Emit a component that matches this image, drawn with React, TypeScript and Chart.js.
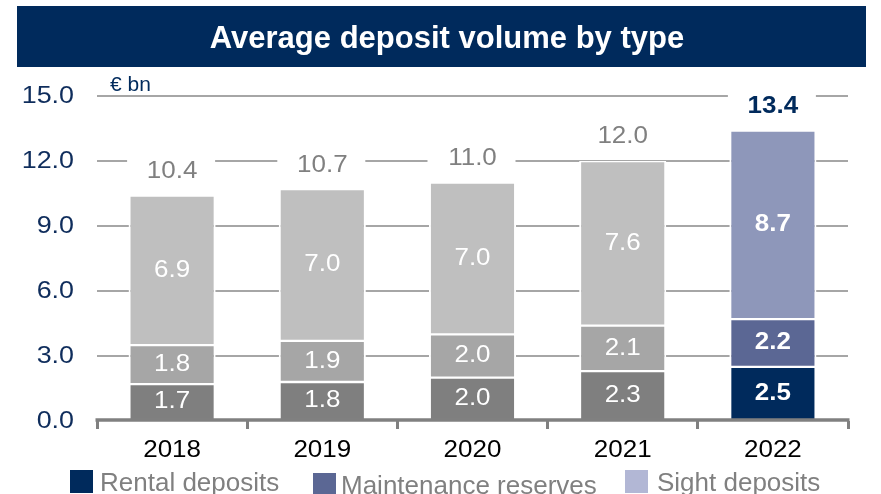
import React, { useEffect, useRef } from "react";
import { Chart, registerables } from "chart.js";

Chart.register(...registerables);

const categories = ["2018", "2019", "2020", "2021", "2022"];
const rental = [1.7, 1.8, 2.0, 2.3, 2.5];
const maintenance = [1.8, 1.9, 2.0, 2.1, 2.2];
const sight = [6.9, 7.0, 7.0, 7.6, 8.7];
const totals = [10.4, 10.7, 11.0, 12.0, 13.4];
const yTicks = [0, 3, 6, 9, 12, 15];
const seriesNames = ["Rental deposits", "Maintenance reserves", "Sight deposits"];
const titleText = "Average deposit volume by type";
const unitText = "€ bn";

const FONT = '"Liberation Sans", Arial, Helvetica, sans-serif';
const NAVY = "#002A5C";
const SX = 1.13;

const rentalColors = ["#7F7F7F", "#7F7F7F", "#7F7F7F", "#7F7F7F", "#002A5C"];
const maintColors = ["#A6A6A6", "#A6A6A6", "#A6A6A6", "#A6A6A6", "#5B6794"];
const sightColors = ["#BFBFBF", "#BFBFBF", "#BFBFBF", "#BFBFBF", "#8E97BA"];
const legendColors = ["#002A5C", "#5B6794", "#B2B7D5"];

function txt(
  ctx: CanvasRenderingContext2D,
  s: string,
  x: number,
  y: number,
  font: string,
  color: string,
  align: CanvasTextAlign,
  sx = SX,
  baseline: CanvasTextBaseline = "middle"
) {
  ctx.save();
  ctx.font = font;
  ctx.fillStyle = color;
  ctx.textAlign = align;
  ctx.textBaseline = baseline;
  ctx.translate(x, y);
  ctx.scale(sx, 1);
  ctx.fillText(s, 0, 0);
  ctx.restore();
}

const deco = {
  id: "deco",
  beforeDraw(chart: any) {
    const ctx: CanvasRenderingContext2D = chart.ctx;
    ctx.save();
    ctx.fillStyle = "#FFFFFF";
    ctx.fillRect(0, 0, chart.width, chart.height);
    ctx.fillStyle = NAVY;
    ctx.fillRect(17, 6, 849, 61);
    ctx.restore();
    txt(ctx, titleText, 447, 48, `bold 31px ${FONT}`, "#FFFFFF", "center", 1.0, "alphabetic");
    txt(ctx, unitText, 110, 91, `20px ${FONT}`, NAVY, "left", 1.05, "alphabetic");
  },
  afterDatasetsDraw(chart: any) {
    const ctx: CanvasRenderingContext2D = chart.ctx;
    const ys = chart.scales.y;
    const xs = chart.scales.x;
    const area = chart.chartArea;
    // axis line
    const y0 = ys.getPixelForValue(0);
    ctx.save();
    ctx.strokeStyle = "#808080";
    ctx.lineWidth = 3.5;
    ctx.beginPath();
    ctx.moveTo(area.left - 1.5, y0 - 1);
    ctx.lineTo(area.right + 1.5, y0 - 1);
    ctx.stroke();
    ctx.restore();

    // y tick labels
    yTicks.forEach((v) => {
      txt(ctx, v.toFixed(1), 74, ys.getPixelForValue(v), `24px ${FONT}`, "#0F2D5C", "right", 1.12);
    });
    // x labels
    categories.forEach((c, i) => {
      txt(ctx, c, xs.getPixelForValue(i), 451, `23px ${FONT}`, "#000000", "center");
    });

    // segment labels
    chart.data.datasets.forEach((ds: any, di: number) => {
      const meta = chart.getDatasetMeta(di);
      meta.data.forEach((el: any, i: number) => {
        const v = ds.data[i];
        const cy = (el.y + el.base) / 2;
        const bold = i === 4 ? "bold " : "";
        txt(ctx, v.toFixed(1), el.x, cy, `${bold}23px ${FONT}`, "#FFFFFF", "center");
      });
    });

    // totals
    const topMeta = chart.getDatasetMeta(chart.data.datasets.length - 1);
    topMeta.data.forEach((el: any, i: number) => {
      const cy = el.y - 24;
      ctx.save();
      ctx.fillStyle = "#FFFFFF";
      ctx.fillRect(el.x - 45, cy - 14, 88, 28);
      ctx.restore();
      const is22 = i === 4;
      txt(
        ctx,
        totals[i].toFixed(1),
        el.x,
        cy,
        `${is22 ? "bold " : ""}23px ${FONT}`,
        is22 ? NAVY : "#808080",
        "center"
      );
    });

    // legend
    const legendX = [70, 313, 625];
    const legendSqY = [470, 473, 470];
    const textX = [100, 341, 657];
    const textBase = [491, 494, 491];
    seriesNames.forEach((n, i) => {
      ctx.save();
      ctx.fillStyle = legendColors[i];
      ctx.fillRect(legendX[i], legendSqY[i], 23, 23);
      ctx.restore();
      txt(ctx, n, textX[i], textBase[i], `26px ${FONT}`, "#808080", "left", 1.0, "alphabetic");
    });
  },
};

function bw(di: number) {
  return (c: any) => ({
    left: 2,
    right: 2,
    top: 1.2,
    bottom: di === 0 ? 0 : 1.2,
  });
}

export default function App() {
  const ref = useRef<HTMLCanvasElement | null>(null);
  useEffect(() => {
    document.body.style.margin = "0";
    const canvas = ref.current!;
    const chart = new Chart(canvas, {
      type: "bar",
      data: {
        labels: categories,
        datasets: [
          { label: seriesNames[0], data: rental, backgroundColor: rentalColors },
          { label: seriesNames[1], data: maintenance, backgroundColor: maintColors },
          { label: seriesNames[2], data: sight, backgroundColor: sightColors },
        ].map((d, di) => ({
          ...d,
          borderColor: "#FFFFFF",
          borderWidth: bw(di) as any,
          borderSkipped: false as any,
          inflateAmount: 0,
          barPercentage: 0.58,
          categoryPercentage: 1,
        })),
      },
      options: {
        animation: false,
        responsive: false,
        devicePixelRatio: 1,
        layout: { padding: { left: 0, right: 33, top: 96, bottom: 0 } },
        plugins: {
          legend: { display: false },
          tooltip: { enabled: false },
          title: { display: false },
        },
        scales: {
          x: {
            type: "category",
            stacked: true,
            offset: true,
            grid: {
              offset: true,
              drawOnChartArea: false,
              drawTicks: true,
              tickLength: 8,
              color: "#808080",
              lineWidth: 3,
            },
            border: { display: false },
            ticks: { display: false },
            afterFit: (s: any) => {
              s.height = 73;
            },
          },
          y: {
            stacked: true,
            min: 0,
            max: 15,
            ticks: { stepSize: 3, display: false },
            grid: {
              color: (c: any) => (c.tick && c.tick.value === 0 ? "rgba(0,0,0,0)" : "#A6A6A6"),
              lineWidth: 2,
              drawTicks: false,
            },
            border: { display: false },
            afterFit: (s: any) => {
              s.width = 97;
            },
          },
        },
      },
      plugins: [deco],
    });
    return () => chart.destroy();
  }, []);
  return (
    <div style={{ position: "fixed", left: 0, top: 0, width: 881, height: 494 }}>
      <canvas ref={ref} width={881} height={494} style={{ width: 881, height: 494 }} />
    </div>
  );
}
